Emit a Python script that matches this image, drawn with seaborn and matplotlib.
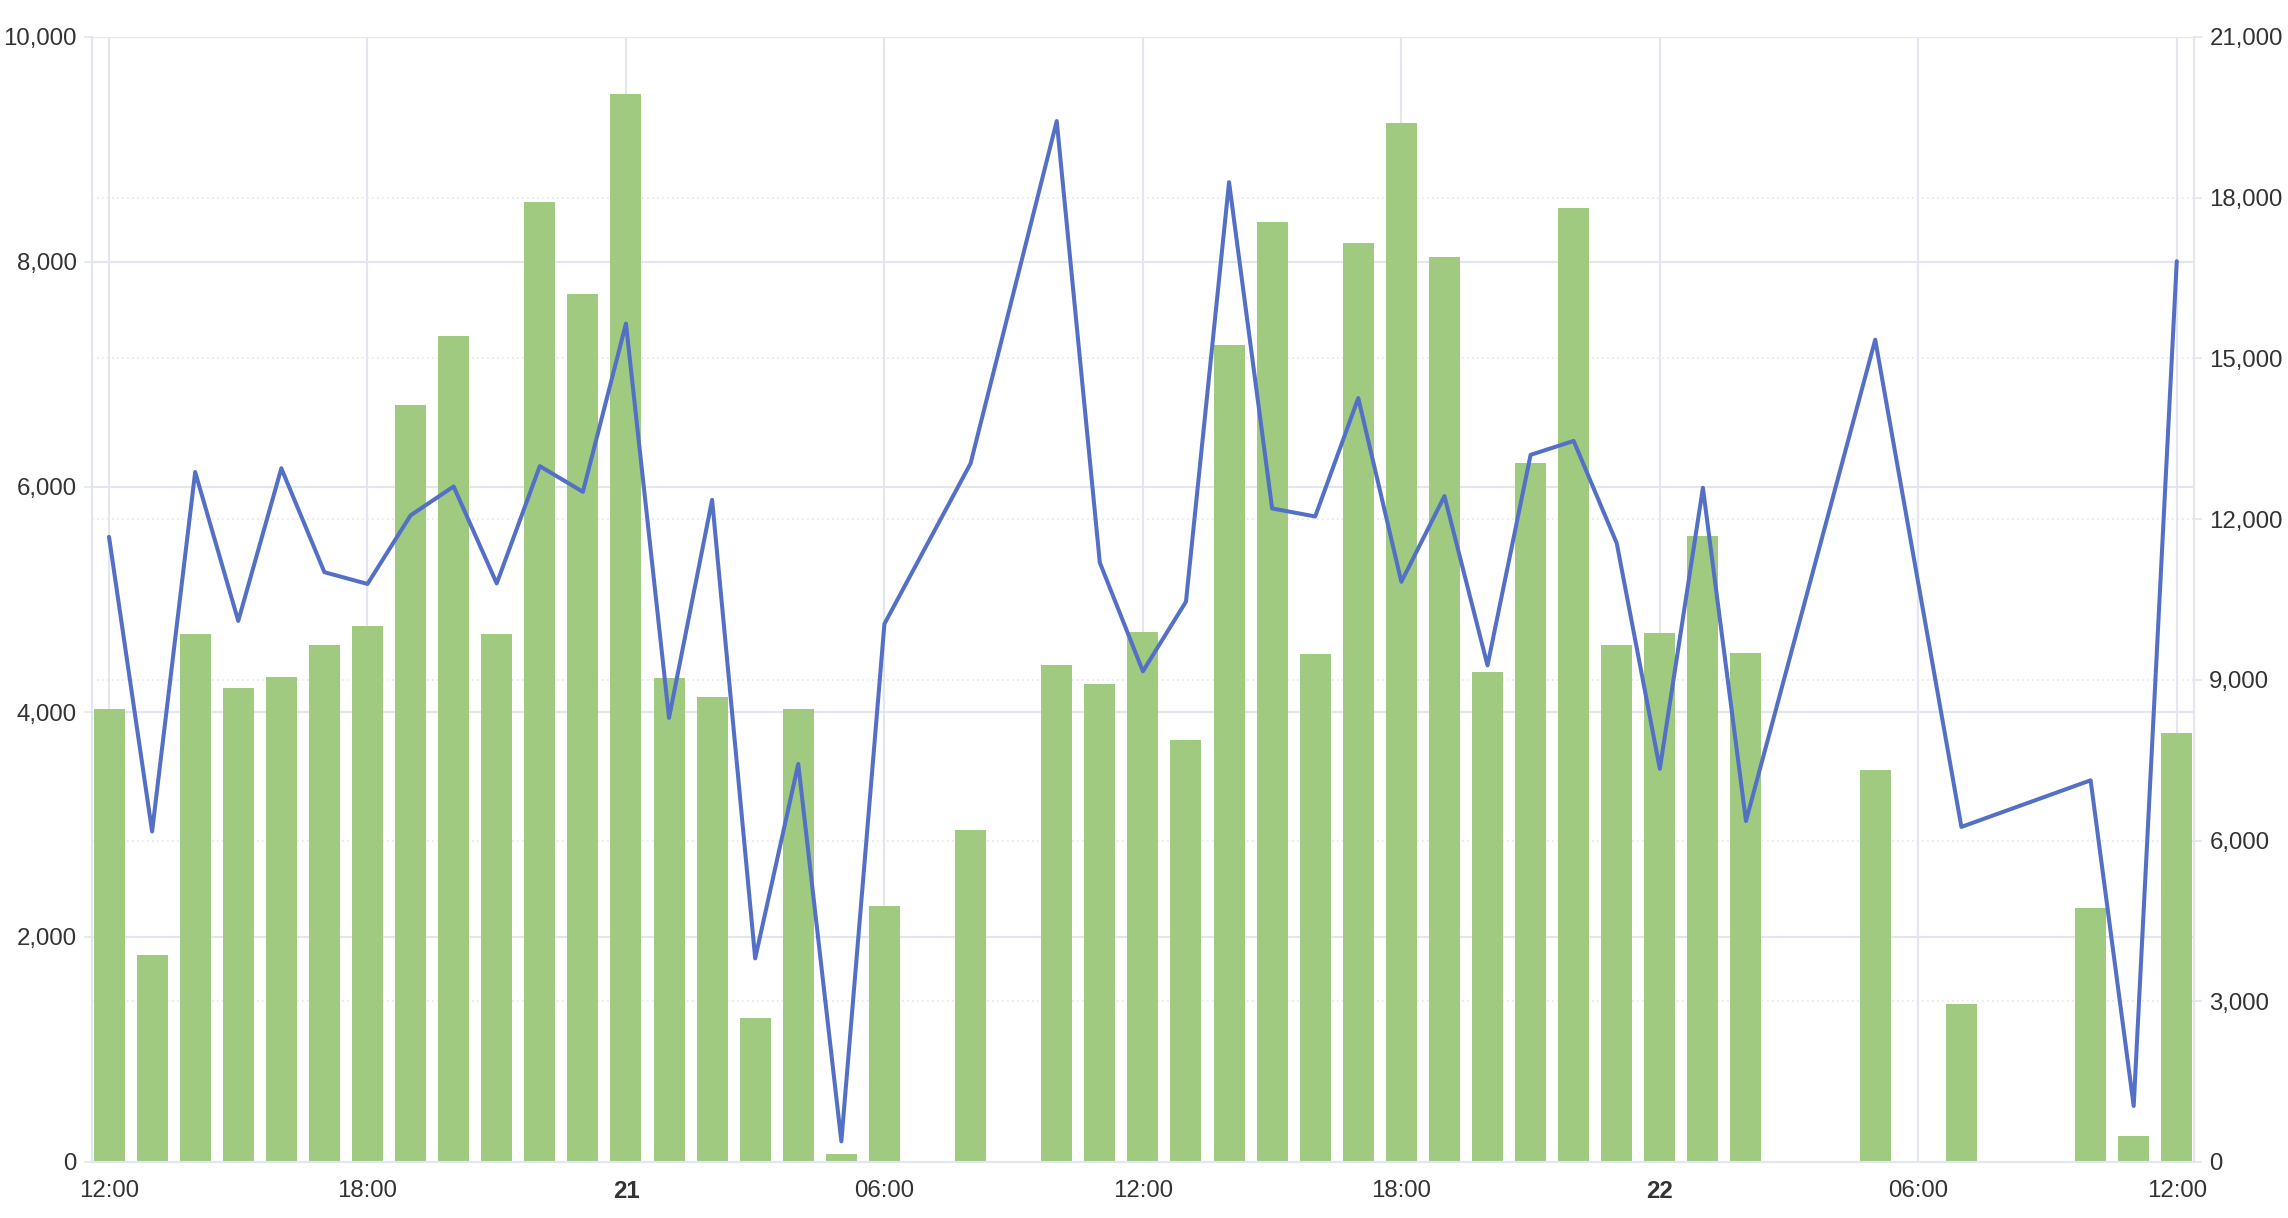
import matplotlib
matplotlib.use("Agg")
import matplotlib.pyplot as plt
import pandas as pd
import seaborn as sns

# Stunden seit 20. 12:00 (Lücken = keine Daten)
hours = [0, 1, 2, 3, 4, 5, 6, 7, 8, 9, 10, 11, 12, 13, 14, 15, 16, 17, 18,
         20, 22, 23, 24, 25, 26, 27, 28, 29, 30, 31, 32, 33, 34, 35, 36, 37, 38,
         41, 43, 46, 47, 48]

# Balken (linke Achse)
bar_values = [4024, 1840, 4690, 4215, 4308, 4592, 4762, 6730, 7340, 4696, 8535, 7715, 9492,
              4306, 4130, 1278, 4030, 75, 2272,
              2948, 4414, 4252, 4708, 3750, 7262, 8360, 4518, 8172, 9240, 8042, 4356,
              6210, 8482, 4600, 4700, 5564, 4526,
              3488, 1408, 2260, 228, 3816]

# Linie (rechte Achse)
line_values = [11670, 6170, 12880, 10100, 12950, 11010, 10790, 12070, 12610, 10800, 12990, 12510,
               15650, 8290, 12360, 3800, 7430, 385, 10045,
               13040, 19430, 11190, 9160, 10460, 18290, 12200, 12050, 14260, 10830, 12430,
               9270, 13200, 13460, 11550, 7340, 12585, 6365,
               15350, 6255, 7125, 1045, 16815]

tick_hours = [0, 6, 12, 18, 24, 30, 36, 42, 48]
tick_labels = ["12:00", "18:00", "21", "06:00", "12:00", "18:00", "22", "06:00", "12:00"]
bold_labels = ["21", "22"]

left_ticks = [0, 2000, 4000, 6000, 8000, 10000]
right_ticks = [0, 3000, 6000, 9000, 12000, 15000, 18000, 21000]

df = pd.DataFrame({"hour": hours, "bars": bar_values, "line": line_values})

sns.set_style("white")
plt.rcParams["font.family"] = ["Liberation Sans", "DejaVu Sans"]

grid_col = "#E3E6EE"
text_col = "#333333"
fs = 17.3

fig = plt.figure(figsize=(22.88, 12.18), dpi=100)
ax = fig.add_axes([92 / 2288, 1 - 1162 / 1218, (2194 - 92) / 2288, (1162 - 37) / 1218])

sns.barplot(data=df, x="hour", y="bars", native_scale=True, width=0.72,
            color="#9FCA7F", saturation=1, ax=ax, zorder=2, linewidth=0)

ax.set_xlim(-0.395, 48.4)
ax.set_ylim(0, 10000)
ax.set_axisbelow(True)

# Gitter: durchgezogen links, gepunktet für rechte Achse
ax.set_yticks(left_ticks)
ax.yaxis.grid(True, color=grid_col, linewidth=1.5)
ax.set_xticks(tick_hours)
ax.xaxis.grid(True, color=grid_col, linewidth=1.5)
for t in right_ticks[1:-1]:
    ax.axhline(t * 10000 / 21000, color=grid_col, linewidth=1.2, linestyle=(0, (1, 2)), zorder=0)

ax.set_xticklabels(tick_labels)
for lab in ax.get_xticklabels():
    if lab.get_text() in bold_labels:
        lab.set_fontweight("bold")
ax.set_yticklabels([f"{v:,}" for v in left_ticks])
ax.tick_params(axis="both", colors=grid_col, labelcolor=text_col, labelsize=fs,
               length=6, width=1.2, pad=5)
ax.tick_params(axis="x", pad=7)
ax.set_xlabel("")
ax.set_ylabel("")

ax2 = ax.twinx()
sns.lineplot(data=df, x="hour", y="line", ax=ax2, color="#5470C6", linewidth=2.9)
ax2.set_ylim(0, 21000)
ax2.set_yticks(right_ticks)
ax2.set_yticklabels([f"{v:,}" for v in right_ticks])
ax2.tick_params(axis="y", colors=grid_col, labelcolor=text_col, labelsize=fs,
                length=6, width=1.2, pad=5)
ax2.set_ylabel("")
ax2.grid(False)

for a in (ax, ax2):
    for side, sp in a.spines.items():
        sp.set_color(grid_col)
        sp.set_linewidth(1.5)
    a.spines["top"].set_visible(False)
ax.spines["right"].set_visible(False)

fig.savefig("out.png", dpi=100)
